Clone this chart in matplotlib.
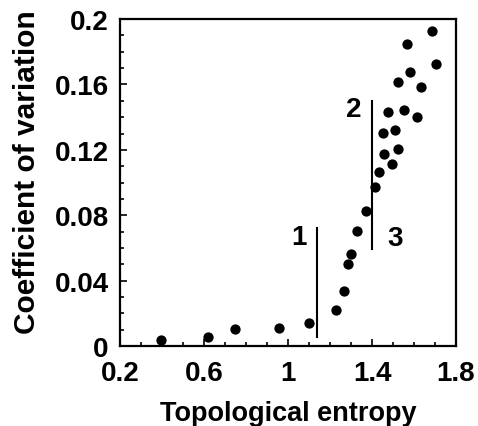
import matplotlib
matplotlib.use("Agg")
import matplotlib.pyplot as plt
from matplotlib.ticker import MultipleLocator, FixedLocator, FuncFormatter

entropy = [0.393, 0.618, 0.750, 0.956, 1.098, 1.227, 1.268, 1.286, 1.302, 1.327,
           1.370, 1.415, 1.431, 1.458, 1.450, 1.475, 1.494, 1.510, 1.525, 1.522,
           1.554, 1.581, 1.569, 1.612, 1.632, 1.686, 1.703]
cv = [0.0038, 0.0059, 0.0104, 0.0110, 0.0144, 0.0220, 0.0340, 0.0500, 0.0565, 0.0703,
      0.0825, 0.0974, 0.1065, 0.1175, 0.1305, 0.1430, 0.1114, 0.1323, 0.1203, 0.1614,
      0.1445, 0.1675, 0.1846, 0.1400, 0.1587, 0.1929, 0.1727]

x_ticks = [0.2, 0.6, 1.0, 1.4, 1.8]
y_ticks = [0, 0.04, 0.08, 0.12, 0.16, 0.2]

vlines_x = [1.137, 1.400]
vlines_ymin = [0.0059, 0.0593]
vlines_ymax = [0.0720, 0.1498]
labels = ["1", "2", "3"]
label_x = [1.054, 1.313, 1.510]
label_y = [0.0665, 0.145, 0.066]

plt.rcParams['font.family'] = ['Liberation Sans', 'DejaVu Sans']

fig = plt.figure(figsize=(4.78, 4.27), dpi=100)
ax = fig.add_axes([0.251, 0.187, 0.703, 0.766])

ax.scatter(entropy, cv, s=55, color='black', zorder=3, linewidths=0)
for x, y0, y1 in zip(vlines_x, vlines_ymin, vlines_ymax):
    ax.plot([x, x], [y0, y1], color='black', lw=1.5)
for t, x, y in zip(labels, label_x, label_y):
    ax.text(x, y, t, fontsize=20, fontweight='bold', ha='center', va='center')

ax.set_xlim(0.2, 1.8)
ax.set_ylim(0, 0.2)
ax.xaxis.set_major_locator(FixedLocator(x_ticks))
ax.xaxis.set_minor_locator(MultipleLocator(0.1))
ax.yaxis.set_major_locator(FixedLocator(y_ticks))
ax.yaxis.set_minor_locator(MultipleLocator(0.01))

def fmt(v, pos):
    s = f"{v:.2f}".rstrip('0').rstrip('.')
    return s if s else "0"
ax.xaxis.set_major_formatter(FuncFormatter(fmt))
ax.yaxis.set_major_formatter(FuncFormatter(fmt))

ax.tick_params(which='both', direction='in', top=False, right=False, width=1.2)
ax.tick_params(which='major', length=5, labelsize=20, pad=8)
ax.tick_params(which='minor', length=3)
ax.tick_params(axis='x', which='major', pad=10)
for lab in ax.get_xticklabels() + ax.get_yticklabels():
    lab.set_fontweight('bold')
for sp in ax.spines.values():
    sp.set_linewidth(1.6)

ax.set_xlabel("Topological entropy", fontsize=19.5, fontweight='bold', labelpad=10)
ax.set_ylabel("Coefficient of variation", fontsize=21.5, fontweight='bold')
ax.yaxis.set_label_coords(-0.235, 0.534)

fig.savefig("out.png", dpi=100)
